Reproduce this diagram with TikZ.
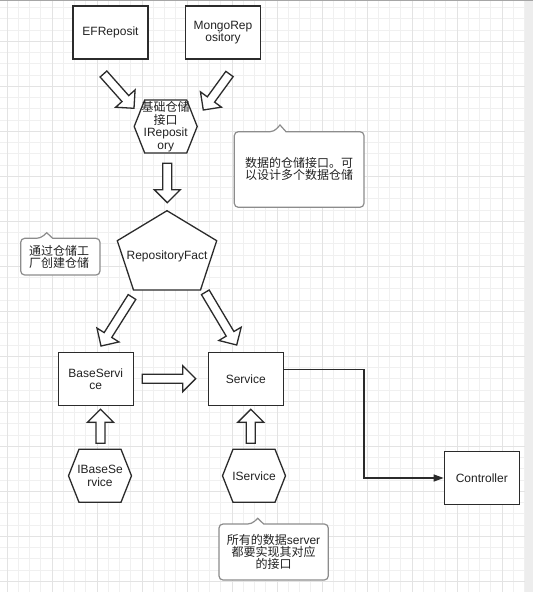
\documentclass[tikz,border=0pt]{standalone}
\usepackage{fontspec}
\setmainfont{Liberation Sans}
\newfontfamily\cjk{Noto Sans CJK SC}
\usetikzlibrary{calc,arrows.meta}
\setlength{\lineskiplimit}{-10pt}

\definecolor{linec}{HTML}{2B2B2B}
\definecolor{notec}{HTML}{8C8C8C}
\definecolor{gridc}{HTML}{F0F0F0}
\definecolor{gridmaj}{HTML}{E3E3E3}
\definecolor{textc}{HTML}{222222}

% hollow block arrow between two named coordinates
\newcommand\flexarrow[2]{%
  \coordinate (fb) at ($(#2)!13pt!(#1)$);
  \draw[blockarrow] ($(#1)!4.5pt!90:(#2)$) -- ($(fb)!4.5pt!90:(#2)$)
    -- ($(fb)!13pt!90:(#2)$) -- (#2) -- ($(fb)!13pt!-90:(#2)$)
    -- ($(fb)!4.5pt!-90:(#2)$) -- ($(#1)!4.5pt!-90:(#2)$) -- cycle;}
% flat hexagon round a centre
\newcommand\hexshape[1]{%
  \draw[shapeline] (#1) ++(-31.5,0) -- ++(10.5,-26.5) -- ++(42,0)
    -- ++(10.5,26.5) -- ++(-10.5,26.5) -- ++(-42,0) -- cycle;}
% note with a notch on top: left, top, right, bottom, notch x, tip y
\newcommand\notebox[6]{%
  \draw[noteline] (#5-6,#2) -- (#5,#6) -- (#5+6,#2) [rounded corners=4pt]
    -- (#3,#2) -- (#3,#4) -- (#1,#4) -- (#1,#2) -- cycle;}

\begin{document}
\begin{tikzpicture}[
    x=1pt, y=-1pt,
    font=\fontsize{12}{12.5}\selectfont,
    box/.style={draw=linec, fill=white, line width=1.3pt, rectangle,
                minimum width=75pt, minimum height=53pt, inner sep=0pt,
                align=center, text=textc},
    hext/.style={inner sep=0pt, align=center, text=textc},
    shapeline/.style={draw=linec, fill=white, line width=1.3pt, line join=miter},
    blockarrow/.style={draw=linec, fill=white, line width=1.3pt, line join=miter},
    noteline/.style={draw=notec, fill=white, line width=1.2pt},
    conn/.style={draw=linec, line width=1.3pt, line join=miter,
                 -{Triangle[length=10pt,width=7pt]}},
    gridminor/.style={draw=gridc, line width=0.9pt},
    gridmajor/.style={draw=gridmaj, line width=0.9pt}
  ]
    \useasboundingbox (0,0) rectangle (533,592);

    %% --- Background grid ---
    \fill[white] (0,0) rectangle (533,592);
    \foreach \gx in {7,18.25,...,525} \draw[gridminor] (\gx,0) -- (\gx,592);
    \foreach \gy in {7.5,18.75,...,592} \draw[gridminor] (0,\gy) -- (525,\gy);
    \foreach \gx in {7,52,...,525} \draw[gridmajor] (\gx,0) -- (\gx,592);
    \foreach \gy in {41.25,86.25,...,592} \draw[gridmajor] (0,\gy) -- (525,\gy);
    \fill[black!7] (525,0) rectangle (533,592);
    \draw[black!35, line width=1.5pt] (0,0.5) -- (533,0.5);

    %% --- Notes ---
    \notebox{234.3}{131.7}{364}{207.3}{280}{125}
    \node[hext] (note1) at (299,169) {\cjk 数据的仓储接口。可\\\cjk 以设计多个数据仓储};
    \notebox{20.7}{238.3}{100}{275}{46.7}{232.7}
    \node[hext] (note2) at (59,257) {\cjk 通过仓储工\\\cjk 厂创建仓储};
    \notebox{219}{524}{328.3}{580}{257.7}{518.3}
    \node[hext, font=\fontsize{12}{12}\selectfont]
      (note3) at (273.5,551.5) {{\cjk 所有的数据}server\\\cjk 都要实现其对应\\\cjk 的接口};

    %% --- Repositories ---
    \node[box] (ef) at (110.5,32.5) {EFReposit};
    \node[box] (mongo) at (223,32.5) {MongoRep\\ository};
    \hexshape{165.7,126.5}
    \node[hext] (irepo) at (165.7,126.5) {{\cjk 基础仓储}\\{\cjk 接口}\\IReposit\\ory};

    %% --- Factory ---
    \draw[shapeline] (167,210.7) -- (216.7,240.7) -- (200.5,290) -- (133.5,290)
      -- (117.3,240.7) -- cycle;
    \node[hext] (fact) at (167,256.7) {RepositoryFact};

    %% --- Services ---
    \node[box] (base) at (95.8,379) {BaseServi\\ce};
    \node[box] (svc) at (245.8,379) {Service};
    \node[box] (ctrl) at (481.8,478) {Controller};
    \hexshape{100,475.8}
    \node[hext] (ibase) at (100,475.8) {IBaseSe\\rvice};
    \hexshape{254,475.8}
    \node[hext] (iserv) at (254,475.8) {IService};

    %% --- Block arrows ---
    \coordinate (efT) at (103.5,74);     \coordinate (efH) at (134,108.3);
    \coordinate (mgT) at (229.5,74);     \coordinate (mgH) at (203.3,110);
    \coordinate (irT) at (167.3,163.3);  \coordinate (irH) at (167.3,202.7);
    \coordinate (fbT) at (132,297);      \coordinate (fbH) at (101,346);
    \coordinate (fsT) at (205.3,292.3);  \coordinate (fsH) at (236.7,345);
    \coordinate (bsT) at (142.3,378.7);  \coordinate (bsH) at (195.7,378.7);
    \coordinate (ibT) at (100.5,443.3);  \coordinate (ibH) at (100.5,409.3);
    \coordinate (isT) at (250.8,443.3);  \coordinate (isH) at (250.8,409.3);
    \flexarrow{efT}{efH}
    \flexarrow{mgT}{mgH}
    \flexarrow{irT}{irH}
    \flexarrow{fbT}{fbH}
    \flexarrow{fsT}{fsH}
    \flexarrow{bsT}{bsH}
    \flexarrow{ibT}{ibH}
    \flexarrow{isT}{isH}

    %% --- Service to controller ---
    \draw[conn] ([yshift=9.7pt]svc.east) -- ++(80,0) |- (ctrl.west);
  \end{tikzpicture}
\end{document}
